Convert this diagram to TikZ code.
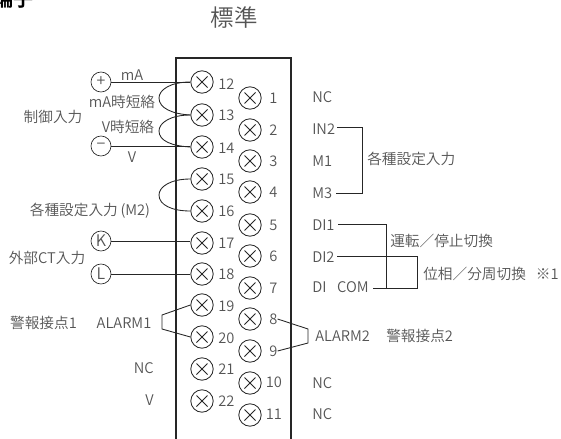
\documentclass[tikz,border=0pt]{standalone}
\usepackage{fontspec}
\setmainfont{Noto Sans CJK JP DemiLight}
\newfontfamily\boldjp{Noto Sans CJK JP Bold}
\definecolor{ink}{gray}{0.15}
\definecolor{txt}{gray}{0.33}
\tikzset{
  term/.style={circle,draw=ink,line width=0.6pt,minimum size=16.8pt,inner sep=0pt,fill=white},
  src/.style={circle,draw=ink,line width=0.5pt,minimum size=15pt,inner sep=0pt,text=txt,font=\fontsize{12}{12}\selectfont},
  lab/.style={text=txt,inner sep=0pt,font=\fontsize{11}{12}\selectfont},
  wire/.style={draw=ink,line width=0.65pt},
  boxline/.style={draw=ink,line width=0.9pt}
}
\begin{document}
\begin{tikzpicture}[x=0.75pt,y=-0.75pt]
\useasboundingbox (0,0) rectangle (561,439);
\begin{scope}
\clip (0,0) rectangle (561,439);
\node[anchor=base west,inner sep=0pt,font=\boldjp\fontsize{15}{15}\selectfont,text=black] (head) at (-7,7) {端子};
\end{scope}
\node[lab,font=\fontsize{17.6}{19}\selectfont] (title) at (234,18) {標準};
\draw[boxline] (176,439) -- (176,58) -- (291,58) -- (291,439);
% terminals
\foreach \n/\x/\y in {12/202/82,13/202/115,14/202/147,15/202/179,16/202/211,17/202/243,18/202/274,19/202/305,20/202/337,21/202/369,22/202/401,
 1/250/98,2/250/130,3/250/161,4/250/192,5/250/225,6/250/256,7/250/288,8/250/319,9/250/351,10/250/383,11/250/415}{
  \node[term] (t\n) at (\x,\y) {};
  \draw[wire] ([shift={(-5.5,-5.5)}]t\n.center) -- ([shift={(5.5,5.5)}]t\n.center)
              ([shift={(5.5,-5.5)}]t\n.center) -- ([shift={(-5.5,5.5)}]t\n.center);
}
\foreach \n/\y in {12/84,13/115,14/148,15/179,16/211,17/243,18/274,19/306,20/338,21/369,22/401}{
  \node[lab,anchor=west] (n\n) at (218,\y) {\n};
}
\foreach \n/\y in {1/98,2/130,3/161,4/192,5/225,6/256,7/288,8/319,9/351}{
  \node[lab,anchor=west] (n\n) at (269,\y) {\n};
}
\node[lab,anchor=west] (n10) at (265.5,382) {10};
\node[lab,anchor=west] (n11) at (265.5,414) {11};
% sources
\node[src] (plus) at (101,82) {+};
\node[src] (minus) at (101,146) {−};
\node[src] (K) at (101,241) {K};
\node[src] (L) at (101,274) {L};
\draw[wire] (plus) -- (t12.west |- plus);
\draw[wire] (minus) -- (t14.west |- minus);
\draw[wire] (K) -- (t17.west |- K);
\draw[wire] (L) -- (t18.west);
% shorts
\draw[wire] (t12.west) .. controls (170,82) and (159,90) .. (159,98) .. controls (159,108) and (172,114) .. (t13.west);
\draw[wire] (t13.west) .. controls (170,115) and (159,123) .. (159,131) .. controls (159,141) and (172,146) .. (t14.west);
\draw[wire] (t15.west) .. controls (170,179) and (159,187) .. (159,195) .. controls (159,205) and (172,211) .. (t16.west);
% left labels
\node[lab] (lmA) at (132,75) {mA};
\node[lab] (lmAs) at (122,102) {mA時短絡};
\node[lab] (lVs) at (128,127) {V時短絡};
\node[lab] (lV) at (132,157) {V};
\node[lab] (lctl) at (53,117) {制御入力};
\node[lab] (lm2) at (90,211) {各種設定入力\kern2pt(M2)};
\node[lab] (lct) at (47,258) {外部CT入力};
\node[lab] (lal1s) at (43.5,323) {警報接点1};
\node[lab] (lal1) at (124,323) {ALARM1};
\node[lab,anchor=east] (lnc) at (154,368) {NC};
\node[lab,anchor=east] (lvv) at (154,400) {V};
% right labels
\node[lab,anchor=west] (rnc) at (312,97) {NC};
\node[lab,anchor=west] (rin2) at (312,129) {IN2};
\node[lab,anchor=west] (rm1) at (312,161) {M1};
\node[lab,anchor=west] (rm3) at (312,193) {M3};
\node[lab,anchor=west] (rdi1) at (312,225) {DI1};
\node[lab,anchor=west] (rdi2) at (312,257) {DI2};
\node[lab,anchor=west] (rcom) at (312,287) {DI\kern8pt COM};
\node[lab,anchor=west] (rset) at (367,159) {各種設定入力};
\node[lab,anchor=west] (rrun) at (390,241) {運転／停止切換};
\node[lab,anchor=west] (rph) at (423,274) {位相／分周切換\kern7.5pt ※1};
\node[lab,anchor=west] (ral2) at (315,336) {ALARM2};
\node[lab,anchor=west] (ral2s) at (386,336) {警報接点2};
\node[lab,anchor=west] (rnc2) at (312,383) {NC};
\node[lab,anchor=west] (rnc3) at (312,414) {NC};
% alarm brackets
\coordinate (a1t) at (162,315);
\coordinate (a1b) at (162,329);
\draw[wire] (t19.west) -- (a1t) -- (a1b) -- (t20.west);
\coordinate (a2t) at (308,329);
\coordinate (a2b) at (308,343);
\draw[wire] (n8.east) -- (a2t) -- (a2b) -- (n9.east);
% right brackets
\coordinate (b0) at (337,127);
\coordinate (b1) at (362,127);
\coordinate (b2) at (362,193);
\coordinate (b3) at (336,193);
\draw[wire] (b0) -- (b1) -- (b2) -- (b3);
\coordinate (c0) at (338,224);
\coordinate (c1) at (386,224);
\coordinate (c2) at (386,288);
\draw[wire] (c0) -- (c1) -- (c2);
\coordinate (d0) at (337,256);
\coordinate (d1) at (417,256);
\coordinate (d2) at (417,288);
\coordinate (d3) at (373,288);
\draw[wire] (d0) -- (d1) -- (d2) -- (d3);
\end{tikzpicture}
\end{document}
